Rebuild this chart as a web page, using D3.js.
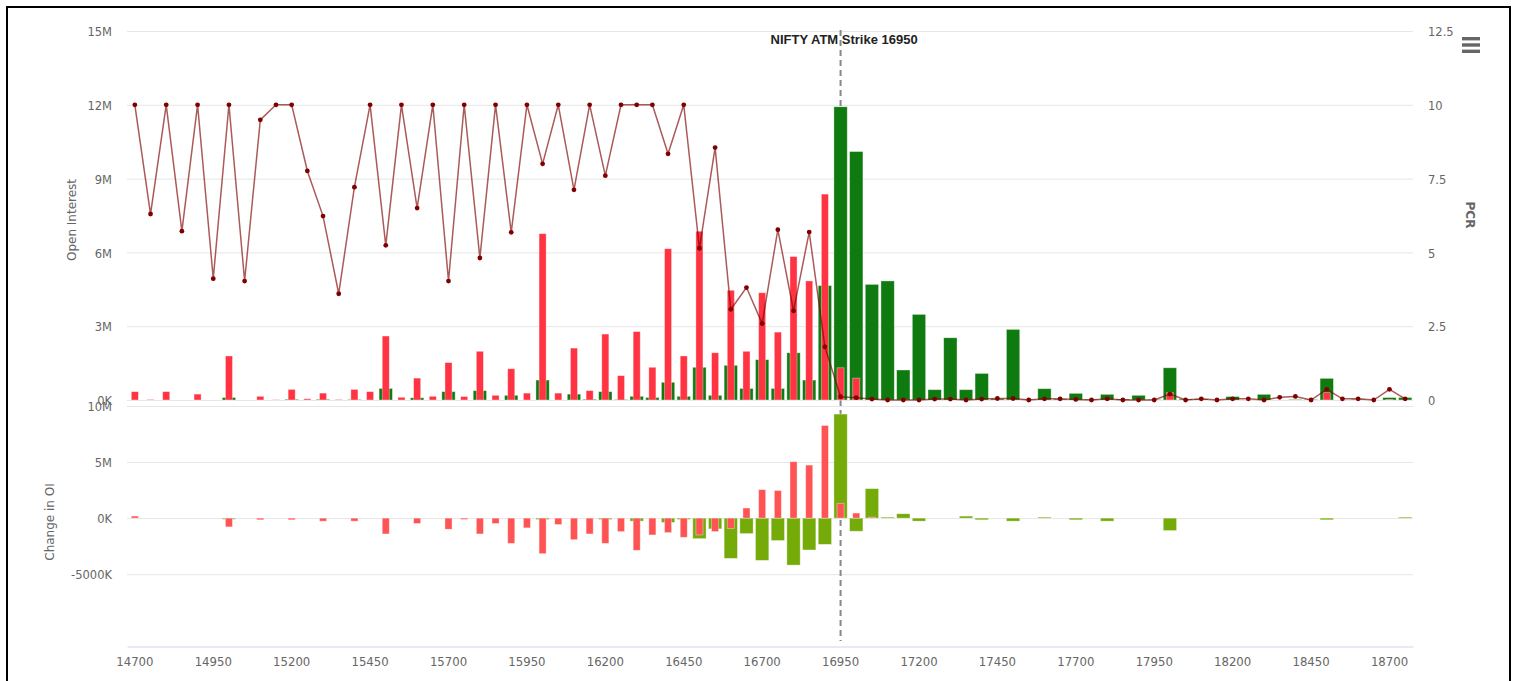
<!DOCTYPE html>
<html>
<head>
<meta charset="utf-8">
<script src="https://cdn.jsdelivr.net/npm/d3@7"></script>
<style>
  body { margin: 0; background: #fff; }
  svg { display: block; }
  .tick text { fill: #666; }
</style>
</head>
<body>
<svg id="chart" width="1515" height="681"></svg>
<script>
// strikes (categories)
var strikes = [14700, 14750, 14800, 14850, 14900, 14950, 15000, 15050, 15100, 15150,
  15200, 15250, 15300, 15350, 15400, 15450, 15500, 15550, 15600, 15650,
  15700, 15750, 15800, 15850, 15900, 15950, 16000, 16050, 16100, 16150,
  16200, 16250, 16300, 16350, 16400, 16450, 16500, 16550, 16600, 16650,
  16700, 16750, 16800, 16850, 16900, 16950, 17000, 17050, 17100, 17150,
  17200, 17250, 17300, 17350, 17400, 17450, 17500, 17550, 17600, 17650,
  17700, 17750, 17800, 17850, 17900, 17950, 18000, 18050, 18100, 18150,
  18200, 18250, 18300, 18350, 18400, 18450, 18500, 18550, 18600, 18650,
  18700, 18750];

var xLabels = [14700, 14950, 15200, 15450, 15700, 15950, 16200, 16450, 16700,
  16950, 17200, 17450, 17700, 17950, 18200, 18450, 18700];

var atmStrike = 16950;

// open interest, millions
var putOI = [0.34, 0.02, 0.34, 0, 0.24, 0, 1.79, 0, 0.15, 0.01,
  0.43, 0.05, 0.28, 0.02, 0.43, 0.34, 2.6, 0.11, 0.89, 0.15,
  1.52, 0.14, 1.98, 0.19, 1.27, 0.28, 6.76, 0.28, 2.11, 0.38,
  2.68, 0.99, 2.78, 1.33, 6.15, 1.79, 6.86, 1.92, 4.46, 1.98,
  4.36, 2.76, 5.83, 4.84, 8.37, 1.31, 0.89, 0, 0, 0,
  0, 0, 0, 0, 0, 0, 0, 0, 0, 0,
  0, 0, 0, 0, 0, 0, 0.3, 0, 0, 0,
  0, 0, 0, 0, 0, 0, 0.3, 0, 0, 0,
  0.02, 0];

var callOI = [0, 0, 0, 0, 0, 0, 0.1, 0, 0, 0,
  0.03, 0, 0.03, 0, 0.02, 0, 0.47, 0, 0.09, 0,
  0.34, 0, 0.38, 0, 0.19, 0, 0.81, 0, 0.24, 0.03,
  0.34, 0.02, 0.15, 0.1, 0.72, 0.15, 1.33, 0.19, 1.41, 0.47,
  1.64, 0.47, 1.92, 0.81, 4.65, 11.92, 10.1, 4.7, 4.84, 1.22,
  3.48, 0.42, 2.53, 0.42, 1.08, 0.05, 2.87, 0.02, 0.46, 0.04,
  0.27, 0.03, 0.23, 0.04, 0.19, 0.02, 1.31, 0.04, 0.04, 0,
  0.14, 0, 0.23, 0, 0.02, 0.02, 0.88, 0, 0.03, 0,
  0.1, 0.1];

var pcr = [10, 6.3, 10, 5.72, 10, 4.11, 10, 4.03, 9.49, 10,
  10, 7.76, 6.23, 3.6, 7.21, 10, 5.24, 10, 6.5, 10,
  4.03, 10, 4.81, 10, 5.68, 10, 8.0, 10, 7.12, 10,
  7.6, 10, 10, 10, 8.34, 10, 5.14, 8.55, 3.07, 3.81,
  2.59, 5.77, 3.02, 5.69, 1.8, 0.11, 0.08, 0.03, 0, 0,
  0, 0.03, 0.03, 0, 0.03, 0.05, 0.05, 0, 0.04, 0.04,
  0.02, 0, 0.04, 0, 0, 0, 0.2, 0, 0.04, 0,
  0.04, 0.04, 0, 0.09, 0.12, 0, 0.36, 0.04, 0.04, 0,
  0.36, 0.04];

// change in OI, millions
var putChg = [0.18, 0, 0, 0, 0, 0, -0.78, 0, -0.15, 0,
  -0.15, 0, -0.27, 0, -0.27, 0, -1.41, 0, -0.48, 0,
  -0.99, -0.12, -1.41, -0.48, -2.25, -0.87, -3.17, -0.57, -1.92, -1.41,
  -2.25, -1.2, -2.87, -1.5, -1.29, -1.71, -1.5, -1.2, -0.93, 0.9,
  2.54, 2.46, 5.03, 4.73, 8.26, 1.32, 0.45, 0.09, 0, 0,
  0, 0, 0, 0, 0, 0, 0, 0, 0, 0,
  0, 0, 0, 0, 0, 0, 0, 0, 0, 0,
  0, 0, 0, 0, 0, 0, 0, 0, 0, 0,
  0, 0];

var callChg = [0, 0, 0, 0, 0, 0, -0.1, 0, 0, 0,
  0, 0, 0, 0, 0, 0, 0, 0, 0, 0,
  0, 0, 0, 0, 0, 0, -0.12, 0, 0, 0,
  -0.12, 0, -0.27, 0, -0.39, -0.12, -1.83, -0.96, -3.59, -1.38,
  -3.77, -2.0, -4.19, -2.84, -2.34, 9.28, -1.17, 2.63, 0.09, 0.39,
  -0.27, 0, 0, 0.18, -0.15, 0, -0.27, 0, 0.09, 0,
  -0.15, 0, -0.27, 0, 0, 0, -1.11, 0, 0, 0,
  0, 0, 0, 0, 0, 0, -0.15, 0, 0, 0,
  0, 0.09];

var oiTicks = [0, 3, 6, 9, 12, 15];
var pcrTicks = [0, 2.5, 5, 7.5, 10, 12.5];
var chgTicks = [-5, 0, 5, 10];

var colors = {
  putOI: "#ff3341", callOI: "#0f7a0f",
  putChg: "#ff5454", callChg: "#74ab08",
  pcr: "#800000"
};

var svg = d3.select("#chart");
var left = 127, right = 1413;
var fontMain = "'DejaVu Sans', Verdana, sans-serif";

svg.append("rect")
  .attr("x", 7).attr("y", 7).attr("width", 1503).attr("height", 700)
  .attr("fill", "none").attr("stroke", "#000").attr("stroke-width", 2);

var x = d3.scaleBand().domain(strikes).range([left, right]).padding(0);
var step = x.bandwidth();
function cx(d) { return x(d) + step / 2; }

var yOI = d3.scaleLinear().domain([0, 15]).range([400, 31]);
var yPcr = d3.scaleLinear().domain([0, 12.5]).range([400, 31]);
var yChg = d3.scaleLinear().domain([-11.45, 10]).range([646.5, 406]);

// grid + left axes
function leftAxis(scale, ticks, fmt) {
  var g = svg.append("g")
    .attr("transform", "translate(" + left + ",0)")
    .call(d3.axisLeft(scale).tickValues(ticks).tickFormat(fmt)
      .tickSize(-(right - left)).tickPadding(15));
  g.select(".domain").remove();
  g.selectAll(".tick line").attr("stroke", "#e6e6e6");
  g.selectAll(".tick text").attr("font-family", fontMain).attr("font-size", "11.5px")
    .attr("dy", "0.4em");
  return g;
}
leftAxis(yOI, oiTicks, function(d) { return d === 0 ? "0K" : d + "M"; });
leftAxis(yChg, chgTicks, function(d) {
  if (d === 0) return "0K";
  if (d < 0) return "-" + (-d * 1000) + "K";
  return d + "M";
});

var gr = svg.append("g")
  .attr("transform", "translate(" + right + ",0)")
  .call(d3.axisRight(yPcr).tickValues(pcrTicks).tickFormat(function(d) { return String(d); })
    .tickSize(0).tickPadding(15));
gr.select(".domain").remove();
gr.selectAll(".tick text").attr("font-family", fontMain).attr("font-size", "11.5px")
  .attr("dy", "0.4em");

// x axis
var gx = svg.append("g")
  .attr("transform", "translate(0," + yChg(-11.45) + ")")
  .call(d3.axisBottom(x).tickValues(xLabels).tickSize(0).tickPadding(10));
gx.select(".domain").attr("stroke", "#ccd6eb");
gx.selectAll(".tick text")
  .attr("font-family", "'Liberation Sans Narrow', 'DejaVu Sans Condensed', sans-serif")
  .attr("font-size", "13px");

// axis titles
function axisTitle(txt, tx, ty, rot, weight) {
  svg.append("text")
    .attr("transform", "translate(" + tx + "," + ty + ") rotate(" + rot + ")")
    .attr("text-anchor", "middle")
    .attr("font-family", fontMain).attr("font-size", "12px")
    .attr("font-weight", weight || "normal")
    .attr("fill", "#666").text(txt);
}
axisTitle("Open Interest", 76, 220, -90);
axisTitle("Change in OI", 54, 522, -90);
axisTitle("PCR", 1466, 215, 90, "bold");

// ATM line sits behind the bars
var atmX = cx(atmStrike);
svg.append("line")
  .attr("x1", atmX).attr("x2", atmX)
  .attr("y1", 30).attr("y2", 641)
  .attr("stroke", "#888").attr("stroke-width", 2)
  .attr("stroke-dasharray", "6,4");

// bars
var wCall = step * 0.85, wPut = step * 0.45;
function bars(data, scale, width, color) {
  svg.append("g").selectAll("rect")
    .data(strikes)
    .enter().append("rect")
    .attr("x", function(d) { return cx(d) - width / 2; })
    .attr("width", width)
    .attr("y", function(d, i) { return Math.min(scale(data[i]), scale(0)); })
    .attr("height", function(d, i) { return Math.abs(scale(data[i]) - scale(0)); })
    .attr("fill", color)
    .attr("stroke", "#fff").attr("stroke-opacity", 0.45).attr("stroke-width", 0.8);
}
bars(callOI, yOI, wCall, colors.callOI);
bars(putOI, yOI, wPut, colors.putOI);
bars(callChg, yChg, wCall, colors.callChg);
bars(putChg, yChg, wPut, colors.putChg);

// PCR line
var line = d3.line()
  .x(function(d) { return cx(d); })
  .y(function(d, i) { return yPcr(pcr[i]); });
svg.append("path")
  .datum(strikes)
  .attr("d", line)
  .attr("fill", "none")
  .attr("stroke", colors.pcr).attr("stroke-opacity", 0.65).attr("stroke-width", 1.5);
svg.append("g").selectAll("circle")
  .data(strikes)
  .enter().append("circle")
  .attr("cx", function(d) { return cx(d); })
  .attr("cy", function(d, i) { return yPcr(pcr[i]); })
  .attr("r", 2.4)
  .attr("fill", colors.pcr);

svg.append("text")
  .attr("x", atmX - 70).attr("y", 44)
  .attr("font-family", "'Liberation Sans', Arial, sans-serif")
  .attr("font-size", "13px").attr("font-weight", "bold")
  .attr("fill", "#222")
  .text("NIFTY ATM Strike " + atmStrike);

// menu icon
svg.append("g").selectAll("rect")
  .data([0, 1, 2])
  .enter().append("rect")
  .attr("x", 1462).attr("y", function(d) { return 37 + d * 6.3; })
  .attr("width", 18).attr("height", 3.4)
  .attr("fill", "#666");
</script>
</body>
</html>
